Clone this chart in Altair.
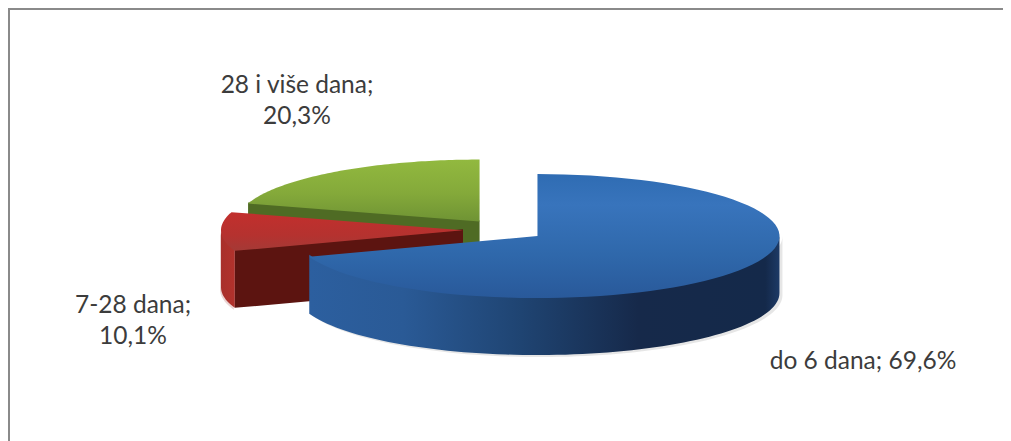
import numpy as np
import pandas as pd
import altair as alt

# --- values ---
CATEGORIES = ["do 6 dana", "7-28 dana", "28 i više dana"]
SHARES = [69.6, 10.1, 20.3]

# --- view of the tilted, exploded pie (page pixels) ---
CX, CY = 504.0, 230.0
RX, RY = 242.0, 62.0
DEPTH = 57.0
EXPLODE = 41.0

W, H = 995, 433
X_SCALE = alt.Scale(domain=[8, 8 + W], range=[0, W], nice=False, zero=False)
Y_SCALE = alt.Scale(domain=[8, 8 + H], range=[0, H], nice=False, zero=False)


def vgrad(stops):
    return alt.Gradient(gradient="linear", x1=0, y1=0, x2=0, y2=1,
                        stops=[alt.GradientStop(offset=o, color=c) for o, c in stops])


def hgrad(stops):
    return alt.Gradient(gradient="linear", x1=0, y1=0, x2=1, y2=0,
                        stops=[alt.GradientStop(offset=o, color=c) for o, c in stops])


def poly(xs, ys, fill, opacity=1.0):
    df = pd.DataFrame({"px": xs, "py": ys, "i": range(len(xs))})
    return alt.Chart(df).mark_line(
        fill=fill, stroke=None, strokeWidth=0, opacity=opacity, interpolate="linear"
    ).encode(
        x=alt.X("px:Q", scale=X_SCALE, axis=None),
        y=alt.Y("py:Q", scale=Y_SCALE, axis=None),
        order=alt.Order("i:Q"),
    )


# angular extents (degrees clockwise from 12 o'clock), blue first
edges = np.concatenate([[0], np.cumsum(SHARES)]) / sum(SHARES) * 360.0
slices = []
for k in range(3):
    a0, a1 = edges[k], edges[k + 1]
    mid = np.radians((a0 + a1) / 2)
    slices.append({
        "a0": a0, "a1": a1,
        "cx": CX + EXPLODE * np.sin(mid),
        "cy": CY - EXPLODE * np.cos(mid) * RY / RX,
    })


def rim(s, a0, a1, n=80):
    t = np.radians(np.linspace(a0, a1, n))
    return s["cx"] + RX * np.sin(t), s["cy"] - RY * np.cos(t)


def top(s, fill):
    x, y = rim(s, s["a0"], s["a1"])
    return poly(np.r_[s["cx"], x], np.r_[s["cy"], y], fill)


def outer_wall(s, fill, dx=0, dy=0, opacity=1.0):
    a0, a1 = max(s["a0"], 90), min(s["a1"], 270)
    x, y = rim(s, a0, a1)
    # the upper edge runs a little under the top face so no seam shows
    return poly(np.r_[x, x[::-1]] + dx, np.r_[y - 2, y[::-1] + DEPTH] + dy, fill, opacity)


def cut_wall(s, angle, fill):
    x, y = rim(s, angle, angle, 1)
    xs = [s["cx"], x[0], x[0], s["cx"]]
    ys = [s["cy"] - 1, y[0] - 1, y[0] + DEPTH, s["cy"] + DEPTH]
    return poly(xs, ys, fill)


blue, red, green = slices

layers = [
    # green slice, furthest back
    cut_wall(green, green["a0"], "#4f6b24"),
    top(green, vgrad([(0, "#92b93f"), (0.55, "#84a93a"), (1, "#6f9334")])),
    # red slice
    outer_wall(red, "#9c2723", dx=-1, dy=2, opacity=0.2),
    outer_wall(red, hgrad([(0, "#a8302b"), (1, "#b2322c")])),
    cut_wall(red, red["a0"], "#5c1410"),
    top(red, vgrad([(0, "#c22f2d"), (0.6, "#b5322f"), (1, "#a43a36")])),
    # blue slice, in front
    outer_wall(blue, "#555555", dx=3, dy=2, opacity=0.15),
    outer_wall(blue, hgrad([
        (0, "#2c5f9f"), (0.2, "#2a5a96"), (0.45, "#1f4472"),
        (0.7, "#16294a"), (0.97, "#14294a"), (1, "#1d3a66"),
    ])),
    top(blue, vgrad([(0, "#2f6cb3"), (0.25, "#3874bc"), (0.65, "#2f68ab"), (1, "#29599a")])),
]

# --- frame of the picture (only the part inside the canvas) ---
frame_h = pd.DataFrame({"px": [8], "px2": [8 + W], "py": [9]})
frame_v = pd.DataFrame({"px": [9], "py": [8], "py2": [8 + H]})
frame = [
    alt.Chart(frame_h).mark_rule(color="#8a8a8a", strokeWidth=2).encode(
        x=alt.X("px:Q", scale=X_SCALE, axis=None), x2="px2:Q",
        y=alt.Y("py:Q", scale=Y_SCALE, axis=None)),
    alt.Chart(frame_v).mark_rule(color="#8a8a8a", strokeWidth=2).encode(
        x=alt.X("px:Q", scale=X_SCALE, axis=None),
        y=alt.Y("py:Q", scale=Y_SCALE, axis=None), y2="py2:Q"),
]

# --- data labels ---
LABEL_TEXT = [
    f"{CATEGORIES[0]}; 69,6%",
    f"{CATEGORIES[1]};", "10,1%",
    f"{CATEGORIES[2]};", "20,3%",
]
LABEL_X = [863, 133, 133, 297, 297]
LABEL_Y = [362, 306, 337, 86, 117]
labels = alt.Chart(pd.DataFrame({"t": LABEL_TEXT, "px": LABEL_X, "py": LABEL_Y})).mark_text(
    font="Lato", fontSize=24.5, color="#3c3c3c", align="center", baseline="middle"
).encode(
    x=alt.X("px:Q", scale=X_SCALE, axis=None),
    y=alt.Y("py:Q", scale=Y_SCALE, axis=None),
    text="t:N",
)

chart = alt.layer(*frame, *layers, labels).properties(
    width=W, height=H, padding=0, background="white",
    autosize=alt.AutoSizeParams(type="none"),
).configure_view(stroke=None)

chart.save("out.html", embed_options={"renderer": "svg", "actions": False})
